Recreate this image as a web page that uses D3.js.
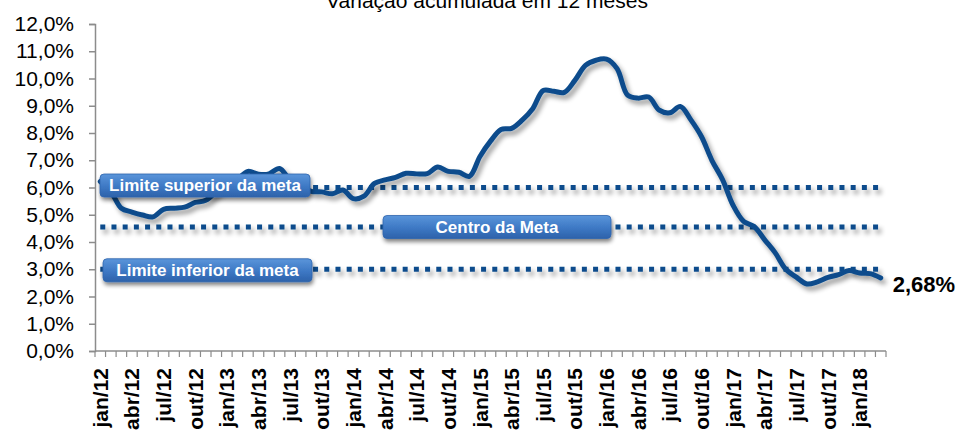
<!DOCTYPE html>
<html><head><meta charset="utf-8">
<script src="https://cdn.jsdelivr.net/npm/d3@7"></script>
<style>
html,body{margin:0;padding:0;background:#fff;}
svg{display:block;font-family:"Liberation Sans",Arial,sans-serif;}
</style></head>
<body><svg id="chart" width="960" height="433"></svg>
<script>
// ---- data ----
const title = "Variação acumulada em 12 meses";
const monthNames = ["jan","fev","mar","abr","mai","jun","jul","ago","set","out","nov","dez"];
const years = ["12","13","14","15","16","17","18"];
const ipca2012 = [6.22,5.85,5.24,5.10,4.99,4.92,5.20,5.24,5.28,5.45,5.53,5.84];
const ipca2013 = [6.15,6.31,6.59,6.49,6.50,6.70,6.27,6.09,5.86,5.84,5.77,5.91];
const ipca2014 = [5.59,5.68,6.15,6.28,6.37,6.52,6.50,6.51,6.75,6.59,6.56,6.41];
const ipca2015 = [7.14,7.70,8.13,8.17,8.47,8.89,9.56,9.53,9.49,9.93,10.48,10.67];
const ipca2016 = [10.71,10.36,9.39,9.28,9.32,8.84,8.74,8.97,8.48,7.87,6.99,6.29];
const ipca2017 = [5.35,4.76,4.57,4.08,3.60,3.00,2.71,2.46,2.54,2.70,2.80,2.95];
const ipca2018 = [2.86,2.84,2.68];
const metaSuperior = 6.0;
const metaCentro = 4.55;
const metaInferior = 3.0;
const yTicks = [0,1,2,3,4,5,6,7,8,9,10,11,12];
const lastLabel = "2,68%";
const bandLabels = ["Limite superior da meta","Centro da Meta","Limite inferior da meta"];

// ---- build ----
const ipca = [].concat(ipca2012,ipca2013,ipca2014,ipca2015,ipca2016,ipca2017,ipca2018);
const months = ipca.map((v,i)=> monthNames[i%12] + "/" + years[Math.floor(i/12)]);
const series = months.map((m,i)=>({m, v: ipca[i]}));

const svg = d3.select("#chart");
const defs = svg.append("defs");

const lineShadow = defs.append("filter").attr("id","lshadow").attr("x","-10%").attr("y","-10%").attr("width","120%").attr("height","130%");
lineShadow.append("feGaussianBlur").attr("in","SourceAlpha").attr("stdDeviation",2.6).attr("result","b");
lineShadow.append("feOffset").attr("in","b").attr("dx",3).attr("dy",4).attr("result","o");
lineShadow.append("feComponentTransfer").attr("in","o").attr("result","s")
  .append("feFuncA").attr("type","linear").attr("slope",0.4);
const lm = lineShadow.append("feMerge");
lm.append("feMergeNode").attr("in","s");
lm.append("feMergeNode").attr("in","SourceGraphic");

const boxShadow = defs.append("filter").attr("id","bshadow").attr("x","-10%").attr("y","-30%").attr("width","120%").attr("height","170%");
boxShadow.append("feGaussianBlur").attr("in","SourceAlpha").attr("stdDeviation",2).attr("result","b");
boxShadow.append("feOffset").attr("in","b").attr("dx",1).attr("dy",3).attr("result","o");
boxShadow.append("feComponentTransfer").attr("in","o").attr("result","s")
  .append("feFuncA").attr("type","linear").attr("slope",0.5);
const bm = boxShadow.append("feMerge");
bm.append("feMergeNode").attr("in","s");
bm.append("feMergeNode").attr("in","SourceGraphic");

const grad = defs.append("linearGradient").attr("id","boxgrad").attr("x1",0).attr("y1",0).attr("x2",0).attr("y2",1);
grad.append("stop").attr("offset","0%").attr("stop-color","#5a95da");
grad.append("stop").attr("offset","55%").attr("stop-color","#3d78c4");
grad.append("stop").attr("offset","100%").attr("stop-color","#2d62aa");

const x = d3.scaleBand().domain(months).range([95,886]).padding(0);
const xc = m => x(m) + x.bandwidth()/2;
const y = d3.scaleLinear().domain([0,12]).range([351,24]);

const blue = "#0b4c8c";

// title
svg.append("text").attr("x",487).attr("y",8).attr("text-anchor","middle")
  .attr("font-size",21).attr("fill","#000").text(title);

// y axis
const yAxis = svg.append("g").attr("transform","translate(95,0)")
  .call(d3.axisLeft(y).tickValues(yTicks).tickSize(6).tickPadding(15)
    .tickFormat(d => d.toFixed(1).replace(".",",") + "%"));
yAxis.select(".domain").attr("stroke","#8c8c8c").attr("stroke-width",1.5);
yAxis.selectAll(".tick line").attr("stroke","#8c8c8c").attr("stroke-width",1.5);
yAxis.selectAll(".tick text").attr("font-size",21).attr("fill","#000")
  .attr("font-family","'Liberation Sans',Arial,sans-serif");

// x axis (ticks at category boundaries)
const xAxisG = svg.append("g");
xAxisG.append("line").attr("x1",95).attr("x2",886).attr("y1",351).attr("y2",351)
  .attr("stroke","#8c8c8c").attr("stroke-width",1.5);
const boundaries = months.map(m => x(m)).concat([886]);
xAxisG.selectAll("line.tk").data(boundaries).join("line").attr("class","tk")
  .attr("x1",d=>d).attr("x2",d=>d).attr("y1",351).attr("y2",357)
  .attr("stroke","#8c8c8c").attr("stroke-width",1.2);
xAxisG.selectAll("text").data(months.filter((m,i)=> i%3===0)).join("text")
  .attr("transform", m => `translate(${xc(m)},368) rotate(-90)`)
  .attr("text-anchor","end").attr("dy","0.36em")
  .attr("font-size",21).attr("font-weight","bold").attr("fill","#000")
  .text(m=>m);

// target lines
const targets = [metaSuperior, metaCentro, metaInferior];
const dotted = svg.append("g").attr("filter","url(#lshadow)");
targets.forEach(t => {
  dotted.append("path")
    .attr("d", d3.line().x(d=>xc(d.m)).y(()=>y(t))(series))
    .attr("fill","none").attr("stroke",blue).attr("stroke-width",5)
    .attr("stroke-dasharray","5,6.2");
});

// main line
svg.append("path").datum(series)
  .attr("d", d3.line().x(d=>xc(d.m)).y(d=>y(d.v)).curve(d3.curveCatmullRom.alpha(0.5)))
  .attr("fill","none").attr("stroke",blue).attr("stroke-width",5)
  .attr("stroke-linejoin","round").attr("stroke-linecap","round")
  .attr("filter","url(#lshadow)");

// label boxes
const boxes = [
  {text: bandLabels[0], x0:100, x1:310, cy: y(metaSuperior) - 2},
  {text: bandLabels[1], x0:383, x1:611, cy: y(metaCentro)},
  {text: bandLabels[2], x0:103, x1:312, cy: y(metaInferior) + 1}
];
const bg = svg.append("g");
boxes.forEach(b => {
  const g = bg.append("g");
  g.append("rect").attr("x",b.x0).attr("y",b.cy-11.5).attr("width",b.x1-b.x0).attr("height",23)
    .attr("rx",4).attr("fill","url(#boxgrad)").attr("stroke","#2f64ad").attr("stroke-width",0.8)
    .attr("filter","url(#bshadow)");
  g.append("text").attr("x",(b.x0+b.x1)/2).attr("y",b.cy).attr("dy","0.35em")
    .attr("text-anchor","middle").attr("font-size",17).attr("font-weight","bold")
    .attr("fill","#fff").text(b.text);
});

// last value label
const last = series[series.length-1];
svg.append("text").attr("x",xc(last.m)+12).attr("y",y(last.v)+14)
  .attr("font-size",22).attr("font-weight","bold").attr("fill","#000").text(lastLabel);
</script></body></html>
